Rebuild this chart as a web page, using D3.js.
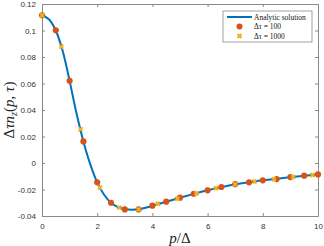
<!DOCTYPE html>
<html>
<head>
<meta charset="utf-8">
<script src="https://cdn.jsdelivr.net/npm/d3@7"></script>
<style>
  body { margin: 0; background: #fff; }
  svg { display: block; }
  .tick text { font-family: "Liberation Sans", Arial, sans-serif; font-size: 8px; fill: #333; }
</style>
</head>
<body>
<div id="chart"></div>
<script>
// analytic solution
const analyticP = [0, 0.25, 0.5, 0.75, 1, 1.25, 1.5, 1.75, 2, 2.25, 2.5, 2.75, 3, 3.25, 3.5, 3.75, 4, 4.5, 5, 5.5, 6, 6.5, 7, 7.5, 8, 8.5, 9, 9.5, 10];
const analyticN = [0.1115, 0.1085, 0.1000, 0.0845, 0.0620, 0.0375, 0.0163, -0.0010, -0.0146, -0.0240, -0.0300, -0.0333, -0.0348, -0.0352, -0.0349, -0.0338, -0.0324, -0.0292, -0.0262, -0.0233, -0.0206, -0.0182, -0.0161, -0.0145, -0.0131, -0.0120, -0.0107, -0.0097, -0.0087];

// dtau = 100
const p100 = [0, 0.5, 1, 1.5, 2, 2.5, 3, 3.5, 4, 4.5, 5, 5.5, 6, 6.5, 7, 7.5, 8, 8.5, 9, 9.5, 10];
const n100 = [0.1115, 0.1001, 0.0620, 0.0163, -0.0146, -0.0300, -0.0350, -0.0350, -0.0322, -0.0292, -0.0262, -0.0232, -0.0206, -0.0181, -0.0160, -0.0146, -0.0131, -0.0121, -0.0106, -0.0096, -0.0086];

// dtau = 1000
const p1000 = [0, 0.7, 1.4, 2.1, 2.8, 3.5, 4.2, 4.9, 5.6, 6.3, 7, 7.7, 8.4, 9.1, 9.8];
const n1000 = [0.1115, 0.0878, 0.0254, -0.0186, -0.0337, -0.0350, -0.0307, -0.0270, -0.0228, -0.0191, -0.0160, -0.0140, -0.0123, -0.0105, -0.0091];

const xTicks = [0, 2, 4, 6, 8, 10];
const yTicks = [-0.04, -0.02, 0, 0.02, 0.04, 0.06, 0.08, 0.1, 0.12];
const legendLabels = ["Analytic solution", "Δτ = 100", "Δτ = 1000"];

const W = 324, H = 246;
const margin = { top: 4, right: 6, bottom: 30, left: 42 };
const iw = W - margin.left - margin.right;
const ih = H - margin.top - margin.bottom;

const blue = "#0072BD", red = "#D95319", yellow = "#EDB120", axisCol = "#8a8a8a";

const svg = d3.select("#chart").append("svg")
  .attr("width", W).attr("height", H);

const g = svg.append("g").attr("transform", `translate(${margin.left},${margin.top})`);

const x = d3.scaleLinear().domain([0, 10]).range([0, iw]);
const y = d3.scaleLinear().domain([-0.04, 0.12]).range([ih, 0]);

const fmt = d => d === 0 ? "0" : String(+d.toFixed(2));

// axes: ticks pointing inwards, box round the plot
const styleAxis = sel => {
  sel.select(".domain").attr("stroke", axisCol);
  sel.selectAll(".tick line").attr("stroke", axisCol);
};
g.append("g").attr("transform", `translate(0,${ih})`)
  .call(d3.axisBottom(x).tickValues(xTicks).tickSizeInner(-3).tickSizeOuter(0).tickPadding(7).tickFormat(fmt))
  .call(styleAxis);
g.append("g")
  .call(d3.axisLeft(y).tickValues(yTicks).tickSizeInner(-3).tickSizeOuter(0).tickPadding(6).tickFormat(fmt))
  .call(styleAxis);
g.append("g")
  .call(d3.axisTop(x).tickValues(xTicks).tickSizeInner(-3).tickSizeOuter(0).tickFormat(""))
  .call(styleAxis);
g.append("g").attr("transform", `translate(${iw},0)`)
  .call(d3.axisRight(y).tickValues(yTicks).tickSizeInner(-3).tickSizeOuter(0).tickFormat(""))
  .call(styleAxis);

// analytic curve
const line = d3.line()
  .x((d, i) => x(analyticP[i]))
  .y(d => y(d))
  .curve(d3.curveCatmullRom.alpha(0.5));
g.append("path")
  .datum(analyticN)
  .attr("d", line)
  .attr("fill", "none")
  .attr("stroke", blue)
  .attr("stroke-width", 2);

// dtau = 100 circles
g.selectAll(".c100").data(n100).enter().append("circle")
  .attr("class", "c100")
  .attr("cx", (d, i) => x(p100[i]))
  .attr("cy", d => y(d))
  .attr("r", 3.1)
  .attr("fill", red);

// dtau = 1000 crosses
const cross = d3.symbol().type(d3.symbolX).size(12);
g.selectAll(".c1000").data(n1000).enter().append("path")
  .attr("class", "c1000")
  .attr("transform", (d, i) => `translate(${x(p1000[i])},${y(d)})`)
  .attr("d", cross)
  .attr("fill", "none")
  .attr("stroke", yellow)
  .attr("stroke-width", 2);

// axis labels
svg.append("text")
  .attr("x", margin.left + iw / 2).attr("y", 243)
  .attr("text-anchor", "middle")
  .attr("font-family", "Liberation Serif, serif")
  .attr("font-size", 15)
  .attr("fill", "#222")
  .html('<tspan font-style="italic">p</tspan>/Δ');

const yl = svg.append("text")
  .attr("transform", `translate(14,${margin.top + ih / 2}) rotate(-90)`)
  .attr("text-anchor", "middle")
  .attr("font-family", "Liberation Serif, serif")
  .attr("font-size", 15)
  .attr("fill", "#222");
yl.append("tspan").text("Δ");
yl.append("tspan").attr("font-style", "italic").text("τn");
yl.append("tspan").attr("font-style", "italic").attr("font-size", 10).attr("dy", 3).text("z");
yl.append("tspan").attr("dy", -3).text("(");
yl.append("tspan").attr("font-style", "italic").text("p");
yl.append("tspan").text(", ");
yl.append("tspan").attr("font-style", "italic").text("τ");
yl.append("tspan").text(")");

// legend
const lg = svg.append("g").attr("transform", "translate(223,11)");
lg.append("rect")
  .attr("width", 89).attr("height", 31)
  .attr("fill", "#fff").attr("stroke", axisCol).attr("stroke-width", 0.8);
const rowY = [6, 15.5, 25];
lg.append("line").attr("x1", 4).attr("x2", 29).attr("y1", rowY[0]).attr("y2", rowY[0])
  .attr("stroke", blue).attr("stroke-width", 2);
lg.append("circle").attr("cx", 16.5).attr("cy", rowY[1]).attr("r", 3).attr("fill", red);
lg.append("path").attr("transform", `translate(16.5,${rowY[2]})`).attr("d", cross)
  .attr("fill", "none").attr("stroke", yellow).attr("stroke-width", 2);
lg.selectAll(".lt").data(legendLabels).enter().append("text")
  .attr("class", "lt")
  .attr("x", 31).attr("y", (d, i) => rowY[i] + 2.5)
  .attr("font-family", "Liberation Serif, serif")
  .attr("font-size", 7.5)
  .attr("fill", "#111")
  .text(d => d);
</script>
</body>
</html>
